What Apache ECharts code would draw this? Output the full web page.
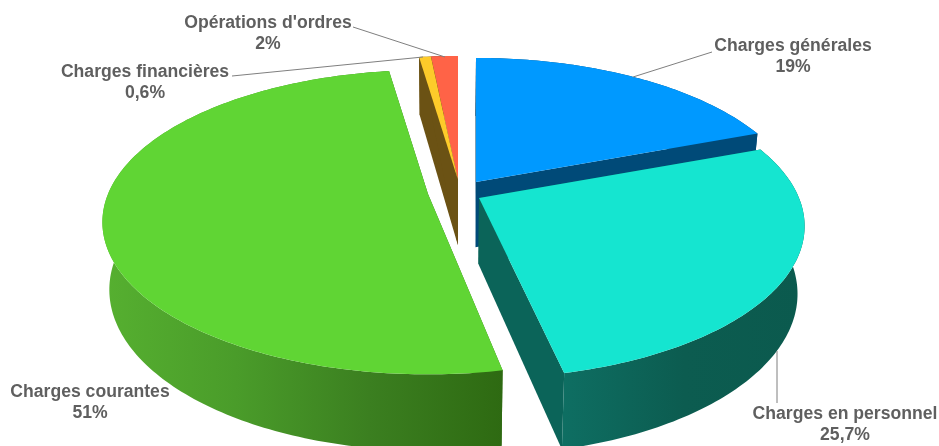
<!DOCTYPE html>
<html>
<head>
<meta charset="utf-8">
<style>
  html, body { margin: 0; padding: 0; background: #fff; }
  #chart { width: 939px; height: 446px; }
</style>
<script src="https://cdn.jsdelivr.net/npm/echarts@6/dist/echarts.min.js"></script>
</head>
<body>
<div id="chart"></div>
<script>
// wedge sizes are read off the drawing, the printed percents are kept apart
// (the printed ones do not add up to 100 and the teal wedge is wider than 25,7%)
const categories = ['Charges générales', 'Charges en personnel', 'Charges courantes', 'Charges financières', "Opérations d'ordres"];
const wedgeValues = [19.3, 27.2, 51.2, 0.7, 1.6];
const printedPercents = ['19%', '25,7%', '51%', '0,6%', '2%'];

// style and layout
const topColors = ['#0099ff', '#15e5d0', '#60d534', '#fdcb2a', '#ff6347'];
const faceColors = ['#004a78', '#0b6459', '#2f6a12', '#6b5214', '#7a2a18'];
const wallStops = [
  ['#004a78', '#004a78'],
  ['#0e6e62', '#0c5c50', '#0b5a4e'],
  ['#56b030', '#4a9c2a', '#3b7f20', '#2e6a12'],
  ['#6b5214', '#6b5214'],
  ['#7a2a18', '#7a2a18'],
];
const apexes = [[476, 182], [479, 198], [428, 194], [458, 180], [458, 180]];
const edgeTrims = [[0, 0], [0, 0], [1.6, 0], [0, 0], [0, 0]];
const drawOrder = [4, 3, 0, 2, 1];
const labelSpots = [[793, 45], [845, 413], [90, 391], [145, 71], [268, 22]];
const leaderLines = [
  [[712, 52], [633, 77]],
  [[777, 351], [777, 403]],
  null,
  [[232, 76], [423, 57]],
  [[353, 27], [445, 57]],
];

const radiusX = 320, radiusY = 147, tilt = 0.185, midX = 450;
const total = wedgeValues.reduce((a, b) => a + b, 0);

// disc point with the near side drawn larger
function project(apex, deg) {
  const a = deg * Math.PI / 180;
  const u = Math.sin(a), v = -Math.cos(a);
  const s = 1 / (1 - tilt * v);
  return [apex[0] + radiusX * u * s, apex[1] + radiusY * v * s];
}
function lower(p) {
  return [p[0] - (p[0] - midX) * 0.02, p[1] + 58 + (p[1] - 58) * 0.058];
}

function renderItem(params, api) {
  const i = api.value(0);
  let start = 0;
  for (let k = 0; k < i; k++) start += wedgeValues[k] / total * 360;
  let end = start + wedgeValues[i] / total * 360;
  start += edgeTrims[i][0];
  end -= edgeTrims[i][1];
  const apex = apexes[i];

  const arc = [];
  const steps = Math.max(2, Math.ceil(end - start));
  for (let k = 0; k <= steps; k++) arc.push(project(apex, start + (end - start) * k / steps));
  const first = arc[0], last = arc[arc.length - 1];
  const stops = wallStops[i].map((c, k, all) => ({ offset: k / (all.length - 1), color: c }));
  const xs = arc.map(p => p[0]);

  const children = [
    { type: 'polygon', shape: { points: [first, apex, lower(apex), lower(first)] }, style: { fill: faceColors[i] } },
    { type: 'polygon', shape: { points: [last, apex, lower(apex), lower(last)] }, style: { fill: faceColors[i] } },
    {
      type: 'polygon',
      shape: { points: arc.concat(arc.map(lower).reverse()) },
      style: {
        fill: new echarts.graphic.LinearGradient(Math.min(...xs), 0, Math.max(...xs), 0, stops, true),
      },
    },
    { type: 'polygon', shape: { points: [apex].concat(arc) }, style: { fill: topColors[i] } },
  ];
  return { type: 'group', children };
}

const chart = echarts.init(document.getElementById('chart'));

const labelGraphics = [];
categories.forEach((name, i) => {
  if (leaderLines[i]) {
    labelGraphics.push({
      type: 'polyline',
      z: 10,
      shape: { points: leaderLines[i] },
      style: { stroke: '#7f7f7f', lineWidth: 1, fill: null },
    });
  }
  labelGraphics.push({
    type: 'text',
    z: 11,
    x: labelSpots[i][0],
    y: labelSpots[i][1] - 9.5,
    style: {
      text: name + '\n' + printedPercents[i],
      fill: '#5f5f5f',
      font: 'bold 17.6px "Liberation Sans", Arial, sans-serif',
      align: 'center',
      lineHeight: 21,
    },
  });
});

chart.setOption({
  animation: false,
  backgroundColor: '#ffffff',
  graphic: { elements: labelGraphics },
  series: [
    {
      type: 'custom',
      coordinateSystem: 'none',
      renderItem: renderItem,
      data: drawOrder.map(i => ({ name: categories[i], value: [i, wedgeValues[i]] })),
    },
  ],
});
</script>
</body>
</html>
